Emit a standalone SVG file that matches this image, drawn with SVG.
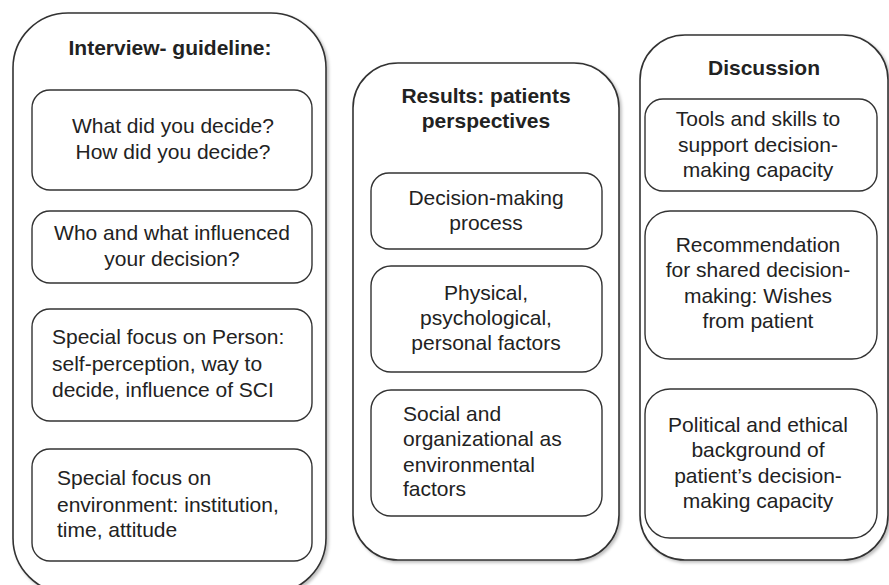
<svg xmlns="http://www.w3.org/2000/svg" width="889" height="585" viewBox="0 0 889 585">
<defs>
<filter id="sh" x="-10%" y="-10%" width="130%" height="130%">
<feDropShadow dx="2" dy="2" stdDeviation="1.5" flood-color="#000" flood-opacity="0.25"/>
</filter>
<style>
.outer{fill:#fff;stroke:#333;stroke-width:1.6;filter:url(#sh)}
.inner{fill:#fff;stroke:#333;stroke-width:1.4}
text{font-family:"Liberation Sans",Arial,sans-serif;font-size:21px;fill:#222}
.t{font-weight:bold}
.c{text-anchor:middle}
</style>
</defs>
<rect width="889" height="585" fill="#fff"/>
<g id="interview">
<rect class="outer" x="13" y="13" width="313" height="580" rx="55" ry="55"/>
<text class="t c" x="170" y="55">Interview- guideline:</text>
</g>
<g id="i1">
<rect class="inner" x="32" y="90" width="280" height="100" rx="18"/>
<text class="c" x="173" y="133">What did you decide?</text>
<text class="c" x="173" y="159">How did you decide?</text>
</g>
<g id="i2">
<rect class="inner" x="32" y="211" width="280" height="72" rx="18"/>
<text class="c" x="172" y="240">Who and what influenced</text>
<text class="c" x="172" y="266">your decision?</text>
</g>
<g id="i3">
<rect class="inner" x="32" y="309" width="280" height="112" rx="18"/>
<text x="52" y="344">Special focus on Person:</text>
<text x="52" y="371">self-perception, way to</text>
<text x="52" y="397">decide, influence of SCI</text>
</g>
<g id="i4">
<rect class="inner" x="32" y="449" width="280" height="112" rx="18"/>
<text x="57" y="485">Special focus on</text>
<text x="57" y="512">environment: institution,</text>
<text x="57" y="537">time, attitude</text>
</g>
<g id="results">
<rect class="outer" x="353" y="63" width="266" height="497" rx="45" ry="45"/>
<text class="t c" x="486" y="103">Results: patients</text>
<text class="t c" x="486" y="128">perspectives</text>
</g>
<g id="r1">
<rect class="inner" x="371" y="173" width="231" height="76" rx="18"/>
<text class="c" x="486" y="205">Decision-making</text>
<text class="c" x="486" y="230">process</text>
</g>
<g id="r2">
<rect class="inner" x="371" y="266" width="231" height="106" rx="20"/>
<text class="c" x="486" y="300">Physical,</text>
<text class="c" x="486" y="325">psychological,</text>
<text class="c" x="486" y="350">personal factors</text>
</g>
<g id="r3">
<rect class="inner" x="371" y="390" width="231" height="126" rx="20"/>
<text x="403" y="421">Social and</text>
<text x="403" y="446">organizational as</text>
<text x="403" y="472">environmental</text>
<text x="403" y="496">factors</text>
</g>
<g id="discussion">
<rect class="outer" x="640" y="35" width="248" height="525" rx="45" ry="45"/>
<text class="t c" x="764" y="75">Discussion</text>
</g>
<g id="d1">
<rect class="inner" x="645" y="99" width="232" height="92" rx="18"/>
<text class="c" x="758" y="126">Tools and skills to</text>
<text class="c" x="758" y="152">support decision-</text>
<text class="c" x="758" y="177">making capacity</text>
</g>
<g id="d2">
<rect class="inner" x="645" y="211" width="232" height="148" rx="25"/>
<text class="c" x="758" y="252">Recommendation</text>
<text class="c" x="758" y="277">for shared decision-</text>
<text class="c" x="758" y="303">making: Wishes</text>
<text class="c" x="758" y="328">from patient</text>
</g>
<g id="d3">
<rect class="inner" x="645" y="389" width="232" height="149" rx="25"/>
<text class="c" x="758" y="432">Political and ethical</text>
<text class="c" x="758" y="457">background of</text>
<text class="c" x="758" y="483">patient’s decision-</text>
<text class="c" x="758" y="508">making capacity</text>
</g>
<g id="connectors"></g>
</svg>
